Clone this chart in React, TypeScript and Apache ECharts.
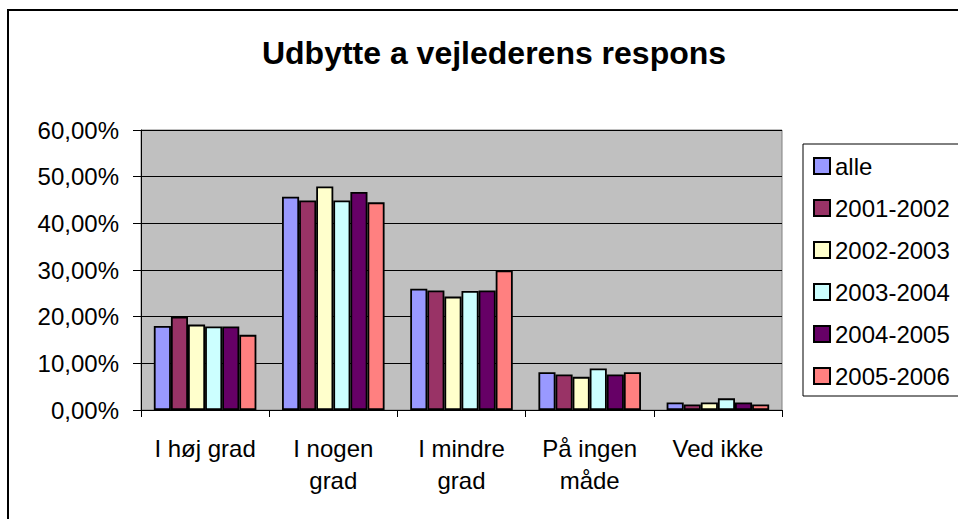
import React, { useEffect, useRef } from "react";
import * as echarts from "echarts";

const categories = ["I høj grad", "I nogen\ngrad", "I mindre\ngrad", "På ingen\nmåde", "Ved ikke"];
const seriesNames = ["alle", "2001-2002", "2002-2003", "2003-2004", "2004-2005", "2005-2006"];
const alle = [0.18, 0.457, 0.26, 0.081, 0.016];
const y2001 = [0.20, 0.449, 0.256, 0.076, 0.012];
const y2002 = [0.183, 0.479, 0.243, 0.071, 0.016];
const y2003 = [0.179, 0.449, 0.255, 0.089, 0.025];
const y2004 = [0.179, 0.467, 0.256, 0.076, 0.016];
const y2005 = [0.161, 0.445, 0.299, 0.081, 0.012];
const seriesValues = [alle, y2001, y2002, y2003, y2004, y2005];
const colors = ["#9999FF", "#993366", "#FFFFCC", "#CCFFFF", "#660066", "#FF8080"];
const yTicks = { min: 0, max: 0.6, interval: 0.1 };

const FONT = "'Liberation Sans', Arial, sans-serif";

export default function App() {
  const ref = useRef<HTMLDivElement>(null);
  useEffect(() => {
    if (!ref.current) return;
    const chart = echarts.init(ref.current, undefined, { renderer: "svg" });
    chart.setOption({
      animation: false,
      backgroundColor: "#FFFFFF",
      textStyle: { fontFamily: FONT, color: "#000" },
      title: {
        text: "Udbytte a vejlederens respons",
        left: 489,
        top: 32,
        textAlign: "center",
        textStyle: { fontFamily: FONT, fontWeight: "bold", fontSize: 32, color: "#000" },
      },
      graphic: [
        {
          type: "rect",
          shape: { x: 8, y: 10, width: 980, height: 540 },
          style: { fill: "none", stroke: "#000", lineWidth: 2 },
          silent: true,
        },
      ],
      legend: {
        orient: "vertical",
        left: 803,
        top: 144,
        padding: [10, 24, 8, 10],
        itemWidth: 16,
        itemHeight: 16,
        itemGap: 18,
        icon: "rect",
        borderColor: "#000",
        borderWidth: 1,
        backgroundColor: "#fff",
        textStyle: { fontFamily: FONT, fontSize: 24, color: "#000", lineHeight: 24 },
        data: seriesNames,
      },
      grid: {
        left: 141,
        top: 130,
        width: 641,
        height: 280,
        show: true,
        backgroundColor: "#C0C0C0",
        borderColor: "#808080",
        borderWidth: 1,
      },
      xAxis: {
        type: "category",
        data: categories,
        axisLine: { lineStyle: { color: "#000", width: 1 } },
        axisTick: { show: true, length: 7, lineStyle: { color: "#000" } },
        axisLabel: {
          fontFamily: FONT,
          fontSize: 24,
          color: "#000",
          lineHeight: 32,
          margin: 22,
          interval: 0,
        },
      },
      yAxis: {
        type: "value",
        min: yTicks.min,
        max: yTicks.max,
        interval: yTicks.interval,
        axisLine: { show: true, lineStyle: { color: "#000", width: 1 } },
        axisTick: { show: true, length: 8, lineStyle: { color: "#000" } },
        splitLine: { show: true, lineStyle: { color: "#000", width: 1 } },
        axisLabel: {
          fontFamily: FONT,
          fontSize: 24,
          color: "#000",
          margin: 22,
          formatter: (v: number) => (v * 100).toFixed(2).replace(".", ",") + "%",
        },
      },
      series: seriesNames.map((name, i) => ({
        name,
        type: "bar",
        data: seriesValues[i],
        barGap: "0%",
        barCategoryGap: "20%",
        itemStyle: { color: colors[i], borderColor: "#000", borderWidth: 1.8 },
      })),
    });
    return () => chart.dispose();
  }, []);
  return (
    <div
      ref={ref}
      style={{ position: "absolute", left: 0, top: 0, width: 958, height: 519 }}
    />
  );
}
